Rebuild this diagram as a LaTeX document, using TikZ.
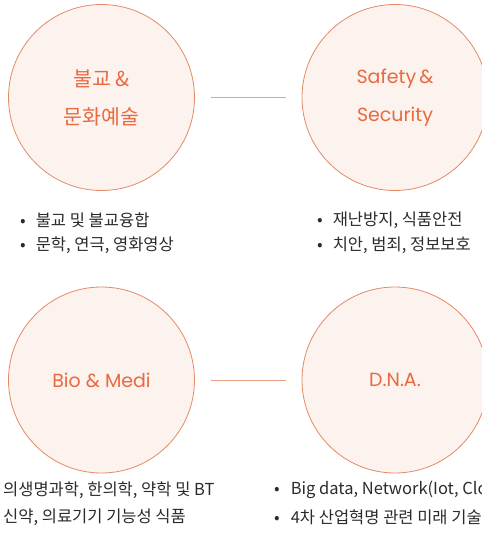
\documentclass[tikz,border=0pt]{standalone}
\usepackage{fontspec}
\setmainfont{Noto Sans CJK KR}
\newfontfamily\kr{Noto Sans CJK KR}
\newfontfamily\geo{Poppins}
\definecolor{circfill}{HTML}{FCF2EE}
\definecolor{circline}{HTML}{E58A66}
\definecolor{circtext}{HTML}{E86A40}
\definecolor{linkline}{HTML}{E9A384}
\definecolor{bodytext}{HTML}{2B2B2B}
\begin{document}
\begin{tikzpicture}[x=1pt,y=-1pt,
  topic/.style={circle,draw=circline,line width=0.8pt,fill=circfill,minimum size=186pt,inner sep=0pt,text=circtext,align=center},
  krtopic/.style={topic,font=\kr\fontsize{20.5}{40}\selectfont},
  entopic/.style={topic,font=\geo\fontsize{19}{38}\selectfont},
  link/.style={draw=linkline,line width=0.9pt},
  item/.style={anchor=west,inner sep=0pt,text=bodytext,font=\kr\fontsize{16.5}{20}\selectfont}]
\useasboundingbox (0,0) rectangle (482,541);
\clip (0,0) rectangle (482,541);
\node[krtopic] (bul) at (101.5,97.5) {불교\,\&\\[-2pt]문화예술};
\node[entopic] (saf) at (395,97.5) {Safety\,\&\\Security};
\node[entopic] (bio) at (101.5,380) {Bio \& Medi};
\node[entopic] (dna) at (395,380) {D.N.A.};
\draw[link] ([xshift=16pt]bul.east) -- ([xshift=-16pt]saf.west);
\draw[link] ([xshift=16pt]bio.east) -- ([xshift=-16pt]dna.west);
\node[item] (t1) at (20,220) {\textbullet\hspace{10pt}불교 및 불교융합};
\node[item] (t2) at (20,245) {\textbullet\hspace{10pt}문학, 연극, 영화영상};
\node[item] (t3) at (317,220) {\textbullet\hspace{10pt}재난방지, 식품안전};
\node[item] (t4) at (317,245) {\textbullet\hspace{10pt}치안, 범죄, 정보보호};
\node[item] (b1) at (3,490) {의생명과학, 한의학, 약학 및 BT};
\node[item] (b2) at (3,517.5) {신약, 의료기기 기능성 식품};
\node[item] (b3) at (274,490) {\textbullet\hspace{11pt}Big data, Network(Iot, Cloud)};
\node[item] (b4) at (274,517.5) {\textbullet\hspace{11pt}4차 산업혁명 관련 미래 기술};
\end{tikzpicture}
\end{document}
